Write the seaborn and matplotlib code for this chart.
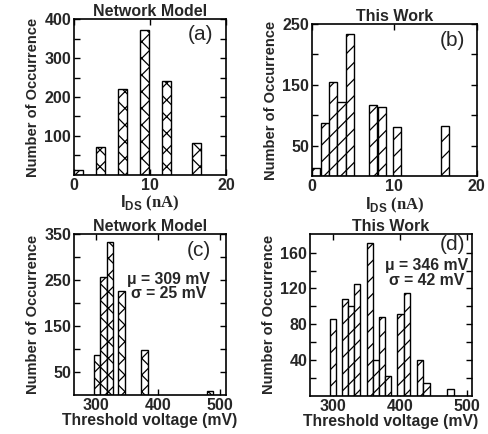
import matplotlib
matplotlib.use("Agg")
import matplotlib.pyplot as plt
import seaborn as sns
import pandas as pd

# ---------------- data ----------------
# (a) Network Model, I_DS histogram
ids_net_x = [0.6, 3.5, 6.4, 9.3, 12.15, 16.1]
ids_net_y = [13, 72, 220, 372, 241, 82]
# (b) This Work, I_DS histogram
ids_tw_x = [0.52, 1.57, 2.6, 3.58, 4.58, 7.4, 8.45, 10.36, 16.1]
ids_tw_y = [14, 87, 155, 121, 233, 117, 113, 81, 83]
# (c) Network Model, threshold voltage histogram
vt_net_x = [302, 313, 323, 341.5, 379, 484]
vt_net_y = [87, 256, 333, 225, 97, 9]
# (d) This Work, threshold voltage histogram
vt_tw_x = [299, 318, 327, 336, 355, 364, 373, 382.5, 401, 411, 430, 440, 476]
vt_tw_y = [86, 108, 100, 125, 171, 40, 88, 22, 91, 115, 40, 14.5, 7.5]

titles = ["Network Model", "This Work", "Network Model", "This Work"]
panel_tags = ["(a)", "(b)", "(c)", "(d)"]
stats_c = ["\u03bc = 309 mV", "\u03c3 = 25 mV"]
stats_d = ["\u03bc = 346 mV", "\u03c3 = 42 mV"]

yticks_a = [50, 100, 150, 200, 250, 300, 350, 400]
ylabels_a = ["", "100", "", "200", "", "300", "", "400"]
yticks_b = [50, 100, 150, 200, 250]
ylabels_b = ["50", "", "150", "", "250"]
yticks_c = [50, 100, 150, 200, 250, 300, 350]
ylabels_c = ["50", "", "150", "", "250", "", "350"]
yticks_d = [20, 40, 60, 80, 100, 120, 140, 160]
ylabels_d = ["", "40", "", "80", "", "120", "", "160"]
xticks_ids = [0, 10, 20]
xticks_vt = [300, 400, 500]

# ---------------- style ----------------
sns.set_style("ticks")
plt.rcParams["font.family"] = ["Liberation Sans", "DejaVu Sans"]
plt.rcParams["font.weight"] = "bold"
plt.rcParams["hatch.linewidth"] = 0.9
plt.rcParams["hatch.color"] = "black"
plt.rcParams["mathtext.fontset"] = "custom"
plt.rcParams["mathtext.bf"] = "Liberation Sans:bold"
plt.rcParams["mathtext.rm"] = "Liberation Sans"

fig = plt.figure(figsize=(4.89, 4.34), dpi=100)
positions = [
    [0.151, 0.597, 0.311, 0.359],
    [0.638, 0.594, 0.337, 0.351],
    [0.151, 0.090, 0.311, 0.371],
    [0.634, 0.088, 0.331, 0.373],
]
axes = [fig.add_axes(p) for p in positions]

datasets = [
    (ids_net_x, ids_net_y, "xx", 0.4),
    (ids_tw_x, ids_tw_y, "//", 1.0),
    (vt_net_x, vt_net_y, "xx", 1.05),
    (vt_tw_x, vt_tw_y, "//", 1.05),
]

for ax, (xs, ys, hatch, w) in zip(axes, datasets):
    df = pd.DataFrame({"x": xs, "y": ys})
    sns.barplot(data=df, x="x", y="y", native_scale=True, width=w,
                color="white", edgecolor="black", linewidth=1.0,
                hatch=hatch, errorbar=None, ax=ax, saturation=1)

ylims = [(0, 400), (0, 250), (0, 350), (0, 181)]
xlims = [(0, 20), (0, 20), (265, 510), (265, 508)]
yt = [(yticks_a, ylabels_a), (yticks_b, ylabels_b), (yticks_c, ylabels_c), (yticks_d, ylabels_d)]
xt = [xticks_ids, xticks_ids, xticks_vt, xticks_vt]
tag_pos = [(0.83, 0.90), (0.85, 0.89), (0.82, 0.90), (0.88, 0.935)]

for i, ax in enumerate(axes):
    ax.set_xlim(*xlims[i])
    ax.set_ylim(*ylims[i])
    ax.set_yticks(yt[i][0])
    ax.set_yticklabels(yt[i][1])
    ax.set_xticks(xt[i])
    ax.set_xticklabels([str(v) for v in xt[i]])
    ax.tick_params(direction="in", top=True, right=True, left=True, bottom=True,
                   length=4, width=1.0, labelsize=11.5, pad=2, color="black")
    for lab in ax.get_xticklabels() + ax.get_yticklabels():
        lab.set_fontweight("bold")
    for s in ax.spines.values():
        s.set_visible(True)
        s.set_linewidth(1.2)
        s.set_color("black")
    ax.set_title(titles[i], fontsize=11.5, fontweight="bold", pad=2)
    ax.set_ylabel("Number of Occurrence", fontsize=10.5, fontweight="bold", labelpad=3)
    ax.text(tag_pos[i][0], tag_pos[i][1], panel_tags[i], transform=ax.transAxes,
            fontsize=15, fontweight="normal", ha="center", va="center")

for ax in axes[:2]:
    ax.set_xlabel(r"$\mathbf{I}_{\mathbf{DS}}$ (nA)", fontsize=12,
                  family="Liberation Serif", fontweight="bold", labelpad=1)
for ax in axes[2:]:
    ax.set_xlabel("Threshold voltage (mV)", fontsize=11.3, fontweight="bold", labelpad=0)

axes[2].text(0.62, 0.72, stats_c[0], transform=axes[2].transAxes, fontsize=11.3,
             fontweight="bold", ha="center", va="center")
axes[2].text(0.62, 0.63, stats_c[1], transform=axes[2].transAxes, fontsize=11.3,
             fontweight="bold", ha="center", va="center")
axes[3].text(0.72, 0.805, stats_d[0], transform=axes[3].transAxes, fontsize=11.3,
             fontweight="bold", ha="center", va="center")
axes[3].text(0.72, 0.715, stats_d[1], transform=axes[3].transAxes, fontsize=11.3,
             fontweight="bold", ha="center", va="center")

fig.savefig("out.png", dpi=100)
